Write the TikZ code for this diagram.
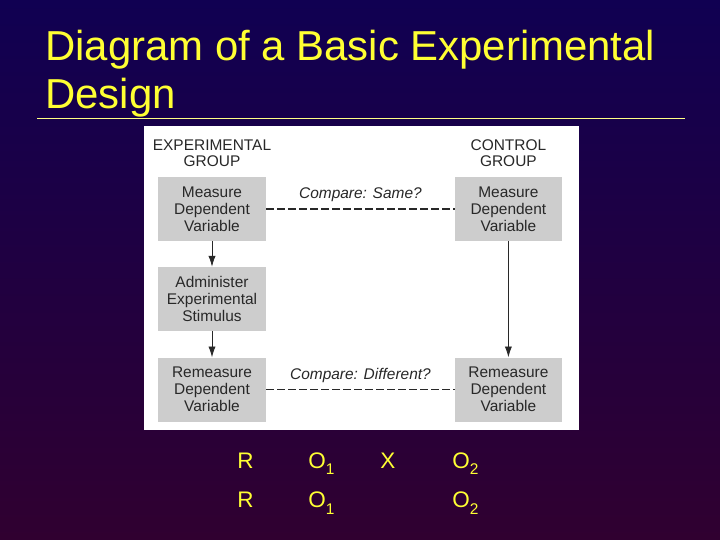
\documentclass[tikz,border=0pt]{standalone}
\usepackage{fontspec}
\setmainfont{Liberation Sans}
\usepackage{tikz}
\usetikzlibrary{shapes,arrows,arrows.meta,positioning,calc}

\definecolor{slidetop}{RGB}{16,0,82}
\definecolor{slidebottom}{RGB}{48,0,48}
\definecolor{titleyellow}{RGB}{255,255,51}
\definecolor{boxgray}{RGB}{205,205,205}
\definecolor{inkgray}{RGB}{40,40,40}

\newcommand{\subdigit}[1]{\raisebox{-4.5pt}{\fontsize{11}{11}\selectfont #1}}

\begin{document}
\begin{tikzpicture}[
    stepbox/.style={rectangle, fill=boxgray, minimum width=2.7cm, minimum height=1.6cm, align=center, text=inkgray, font=\fontsize{11}{12}\selectfont, inner sep=0pt},
    grouplabel/.style={align=center, text=inkgray, font=\fontsize{11}{12}\selectfont, inner sep=0pt},
    compare/.style={inkgray, line width=0.8pt, dash pattern=on 0.2cm off 0.075cm},
    flow/.style={-{Latex[length=2.7mm,width=1.8mm]}, inkgray, semithick},
    notation/.style={anchor=base west, text=titleyellow, font=\fontsize{16}{19}\selectfont, inner sep=0pt}
]
    % slide background
    \shade[top color=slidetop, bottom color=slidebottom] (0,0) rectangle (18,13.5);
    \node[anchor=north west, align=left, inner sep=0pt, text=titleyellow, font=\fontsize{29.8}{34}\selectfont] (title) at (1.125,12.76) {Diagram of a Basic Experimental\\Design};
    \draw[titleyellow!60!white, line width=0.6pt] (0.925,10.55) -- (17.125,10.55);

    % white panel
    \fill[white] (3.6,2.75) rectangle (14.475,10.35);

    \node[grouplabel] (eg) at (5.3,9.67) {EXPERIMENTAL\\GROUP};
    \node[grouplabel] (cg) at (12.71,9.67) {CONTROL\\GROUP};

    \node[stepbox] (e1) at (5.3,8.275) {Measure\\Dependent\\Variable};
    \node[stepbox] (e2) at (5.3,6.025) {Administer\\Experimental\\Stimulus};
    \node[stepbox] (e3) at (5.3,3.76) {Remeasure\\Dependent\\Variable};

    \node[stepbox, minimum width=2.675cm] (c1) at (12.71,8.275) {Measure\\Dependent\\Variable};
    \node[stepbox, minimum width=2.675cm] (c3) at (c1 |- e3) {Remeasure\\Dependent\\Variable};

    \draw[flow] (e1) -- (e2);
    \draw[flow] (e2) -- (e3);
    \draw[flow] (c1) -- (c3);

    \draw[compare] (e1.east) -- node[above=0.05cm, text=inkgray, font=\fontsize{11}{12}\itshape] (same) {Compare: Same?} (c1.west);
    \draw[compare] (e3.east) -- node[above=0.05cm, text=inkgray, font=\fontsize{11}{12}\itshape] (diff) {Compare: Different?} (c3.west);

    % design notation
    \node[notation] (r1) at (5.925,1.8) {R};
    \node[notation] (o11) at (7.7,1.8) {O\subdigit{1}};
    \node[notation] (x1) at (9.5,1.8) {X};
    \node[notation] (o21) at (11.3,1.8) {O\subdigit{2}};
    \node[notation] (r2) at (5.925,0.8) {R};
    \node[notation] (o12) at (7.7,0.8) {O\subdigit{1}};
    \node[notation] (o22) at (11.3,0.8) {O\subdigit{2}};
\end{tikzpicture}
\end{document}
